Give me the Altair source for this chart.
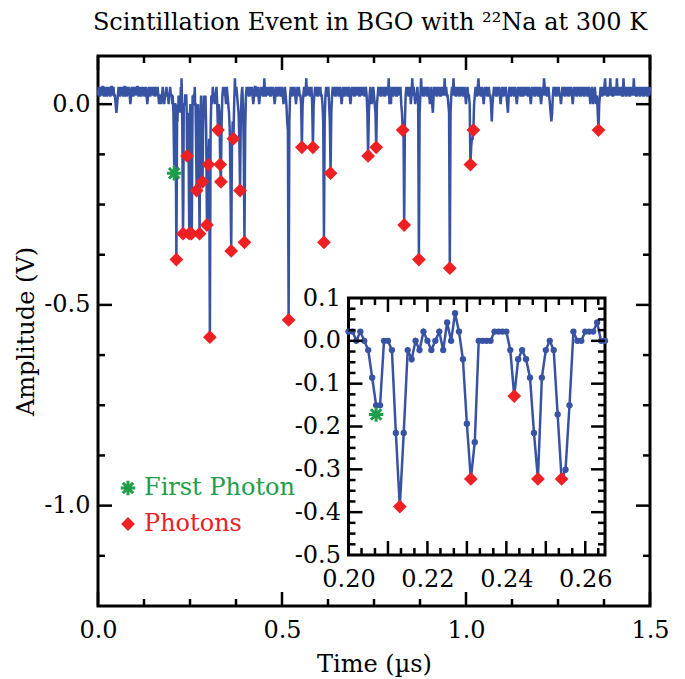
import altair as alt
import pandas as pd

# ---------------- data ----------------
# amplitudes are digitizer levels; one level = LSB volts
LSB = 0.0215
DT = 0.002        # µs per sample in the coarse record
DT_FINE = 0.001   # µs per sample in the zoomed record

# 0.000 .. 0.198 µs
early_levels = [
    1, 2, 1, 1, 2, 1, 2, 2, 1, 1, 2, 1, 1, 2, 1, 2, 1, 1, 2, 2, 1, 2, 1, 1, 0,
    -1, 0, 1, 2, 1, 1, 2, 1, 2, 1, 1, 2, 2, 1, 1, 2, 1, 2, 1, 0, 1, 2, 1, 1, 2,
    1, 2, 1, 2, 2, 1, 1, 2, 1, 1, 2, 1, 2, 1, 1, 2, 1, 0, 1, 2, 1, 1, 2, 1, 2,
    1, 2, 1, 1, 2, 1, 2, 1, 0, 1, 1, 0, 1, 2, 1, 0, 1, 1, 2, 1, 1, 0, 1, 2, 1,
]
# 0.200 .. 0.265 µs (1 ns samples, shown in the inset)
zoom_levels = [
    1, 1, 0, 1, 0, -1, -4, -7, -7, 0,
    0, -1, -10, -18, -10, -1, -2, 0, -1, 1,
    0, -1, 0, 1, -1, 2, 0, 3, 1, -2,
    -9, -15, -11, 0, 0, 0, 0, 1, 1, 1,
    1, -1, -6, -2, -1, -2, -4, -10, -15, -4,
    -1, 0, -1, -8, -15, -14, -7, 1, 0, 0,
    1, 1, 1, 2, 0, 0,
]
# 0.266 .. 1.500 µs
late_levels = [
    -3, -10, -2, 0, -6, -15, -3, 1, -4, -9, -2, 1, 0, 1, -3, -14, -5, -7, -4, -27, -3, 1, 0, 2, 1,
    1, 0, 1, 2, 0, -3, 0, -1, -7, -9, -2, 1, 2, 1, 2, 1, 0, 2, 1, 0, -1, -3, -9, -17, -5,
    -2, -4, 0, 3, 1, 2, 1, 0, -1, -4, -10, -2, 1, 2, 0, -5, -16, -3, 1, 2, 1, 2, 1, 1, 2,
    1, 2, 1, 0, 1, 2, 2, 1, 1, 2, 1, 0, 1, 2, 1, 2, 1, 1, 3, 1, 1, 2, 1, 2, 1,
    2, 1, 1, 2, 1, 2, 1, 0, 1, 2, 1, 1, 2, 1, 2, 1, 1, 2, 1, 0, 1, 2, 1, 0, -2,
    -3, -25, -2, 1, 2, 1, 1, 2, 1, 2, 1, 0, 1, 2, 1, 2, 1, 1, 0, -5, 0, 1, 2, 1, 1,
    3, 1, 2, 1, 2, 1, 1, 2, 0, -5, 0, 1, 2, 1, 2, 1, 1, 2, 1, 2, 1, 1, 0, -2, -16,
    -2, 1, 2, 1, 1, 2, 0, -2, -8, -1, 1, 2, 1, 2, 1, 1, 2, 1, 2, 1, 1, 2, 1, 0, 1,
    2, 1, 1, 2, 1, 2, 1, 1, 2, 1, 0, 1, 2, 1, 2, 1, 1, 2, 1, 2, 1, 2, 1, 1, 2,
    1, 2, 1, 2, 1, 1, 2, 1, -1, -6, -1, 1, 2, 1, 0, 1, 2, 1, 0, -1, -5, 0, 1, 2, 1,
    2, 1, 1, 2, 1, 2, 1, 1, 2, 1, 2, 1, 3, 0, 1, 0, 2, 1, 1, 2, 1, 2, 1, 1, 2,
    1, 2, 1, 2, 0, -1, -3, -2, -14, -2, 1, 2, 1, 2, 1, 1, 2, 0, 1, 3, 1, 2, 1, 0, 1,
    1, 2, 0, -18, -1, 1, 3, 1, 2, 1, 1, 2, 1, 2, 1, 1, 2, 1, 0, 1, 2, 0, -1, 1, 2,
    1, 2, 1, 1, 2, 1, 2, 1, 1, 2, 1, 2, 1, 3, 1, 2, 1, 1, 0, -1, -19, -1, 1, 2, 1,
    3, 1, 2, 1, 1, 2, 1, 2, 1, 1, 2, 1, 2, 1, 1, 2, 1, 0, 1, 2, 1, 1, 0, -7, -5,
    -4, -4, -3, 0, 1, 2, 1, 1, 2, 3, 1, 2, 1, 1, 2, 1, 0, 1, 2, 1, 2, 1, 1, 2, 1,
    1, 0, -2, 0, 1, 2, 1, 2, 1, 1, 2, 1, 2, 1, 0, 1, 2, 1, 1, 2, 1, 2, 1, 0, -1,
    1, 2, 1, 1, 2, 1, 2, 1, 1, 2, 1, 0, 1, 2, 1, 2, 1, 1, 2, 1, 1, 2, 1, 2, 1,
    2, 1, 1, 2, 1, 0, 1, 2, 1, 2, 1, 1, 2, 1, 2, 1, 1, 2, 1, 0, 1, 2, 1, 3, 2,
    1, 2, 1, 1, 2, 1, 0, -1, -2, -1, 1, 2, 1, 2, 1, 1, 2, 1, 2, 1, 1, 0, 1, 2, 1,
    2, 1, 1, 2, 1, 2, 1, 1, 2, 1, 2, 1, 0, 1, 2, 1, 2, 1, 1, 2, 1, 2, 1, 1, 2,
    1, 2, 1, 1, 2, 1, 2, 1, 1, 2, 1, 0, 1, 2, 1, 0, 1, 2, 1, 0, 1, -1, -3, 0, 1,
    2, 1, 1, 2, 1, 2, 3, 1, 2, 1, 1, 2, 1, 3, 1, 2, 1, 1, 2, 1, 2, 1, 3, 1, 2,
    1, 2, 1, 2, 1, 1, 3, 1, 2, 1, 1, 2, 1, 2, 1, 1, 2, 1, 2, 1, 3, 1, 2, 1, 1,
    2, 1, 2, 1, 1, 2, 1, 2, 1, 1, 2, 1, 2, 1, 1, 2, 1, 2,
]
EARLY_T0, ZOOM_T0, LATE_T0 = 0.0, 0.200, 0.266

photon_t = [0.213, 0.231, 0.242, 0.248, 0.254, 0.268, 0.276, 0.284, 0.296, 0.300,
            0.304, 0.326, 0.332, 0.334, 0.362, 0.368, 0.386, 0.398, 0.518, 0.554,
            0.584, 0.614, 0.632, 0.734, 0.756, 0.828, 0.832, 0.872, 0.956, 1.012,
            1.020, 1.360]
photon_v = [-0.387, -0.3225, -0.129, -0.3225, -0.3225, -0.215, -0.3225, -0.1935, -0.301, -0.1505,
            -0.5805, -0.0645, -0.1505, -0.1935, -0.3655, -0.086, -0.215, -0.344, -0.5375, -0.1075,
            -0.1075, -0.344, -0.172, -0.129, -0.1075, -0.0645, -0.301, -0.387, -0.4085, -0.1505,
            -0.0645, -0.0645]
first_t = [0.207]
first_v = [-0.172]

main_x_labels = [0.0, 0.5, 1.0, 1.5]
main_y_labels = [-1.0, -0.5, 0.0]
main_x_minor = [0.125, 0.25, 0.375, 0.625, 0.75, 0.875, 1.125, 1.25, 1.375]
main_y_minor = [-1.125, -0.875, -0.75, -0.625, -0.375, -0.25, -0.125]
inset_x_labels = [0.20, 0.22, 0.24, 0.26]
inset_x_major = [0.21, 0.22, 0.23, 0.24, 0.25, 0.26]
inset_x_minor = [0.2033, 0.2067, 0.2133, 0.2167, 0.2233, 0.2267, 0.2333, 0.2367,
                 0.2433, 0.2467, 0.2533, 0.2567, 0.2633]
inset_y_labels = [0.1, 0.0, -0.1, -0.2, -0.3, -0.4, -0.5]
inset_y_major = [0.0, -0.1, -0.2, -0.3, -0.4]
inset_y_minor = [0.075, 0.05, 0.025, -0.025, -0.05, -0.075, -0.125, -0.15, -0.175,
                 -0.225, -0.25, -0.275, -0.325, -0.35, -0.375, -0.425, -0.45, -0.475]

# ---------------- tables ----------------
def record(t0, dt, levels):
    return pd.DataFrame({"t": [round(t0 + i * dt, 4) for i in range(len(levels))],
                         "v": [lv * LSB for lv in levels]})

zoom_df = record(ZOOM_T0, DT_FINE, zoom_levels)
trace_df = pd.concat([record(EARLY_T0, DT, early_levels), zoom_df,
                      record(LATE_T0, DT, late_levels)], ignore_index=True)
photon_df = pd.DataFrame({"t": photon_t, "v": photon_v})
first_df = pd.DataFrame({"t": first_t, "v": first_v})

# ---------------- style / layout ----------------
W, H = 552, 550
BLUE, RED, GREEN = "#3953a4", "#ee2024", "#1e9e4a"
FONT = "DejaVu Serif"
FS = 24
STAR = "M0,-1L0,1M-1,0L1,0M-0.72,-0.72L0.72,0.72M-0.72,0.72L0.72,-0.72"
DSIZE, SSIZE = 190, 210
MAJ, MIN = 14, 7
IX0, IX1, IY1, IY0 = 250.5, 507, 242, 499   # inset frame in plot pixels

mx = alt.Scale(domain=[0, 1.5], nice=False, zero=False)
my = alt.Scale(domain=[-1.25, 0.12], nice=False, zero=False)
ix = alt.Scale(domain=[0.2, 0.265], range=[IX0, IX1], nice=False, zero=False)
iy = alt.Scale(domain=[-0.5, 0.1], range=[IY0, IY1], nice=False, zero=False)

HYPHEN = "datum.value < 0 ? '-' + format(-datum.value, '.1f') : format(datum.value, '.1f')"


def xticks(vals, scale, edge, length):
    return alt.Chart(pd.DataFrame({"p": vals})).mark_rule(color="black", strokeWidth=2.5).encode(
        x=alt.X("p:Q", scale=scale, axis=None), y=alt.value(edge), y2=alt.value(edge + length))


def yticks(vals, scale, edge, length):
    return alt.Chart(pd.DataFrame({"p": vals})).mark_rule(color="black", strokeWidth=2.5).encode(
        y=alt.Y("p:Q", scale=scale, axis=None), x=alt.value(edge), x2=alt.value(edge + length))


def pts(df, sx, sy, **mark):
    return alt.Chart(df).mark_point(opacity=1, **mark).encode(
        x=alt.X("t:Q", scale=sx, axis=None), y=alt.Y("v:Q", scale=sy, axis=None))


DIAMOND = dict(shape="diamond", filled=True, color=RED, size=DSIZE)
ASTER = dict(shape=STAR, filled=False, stroke=GREEN, strokeWidth=3, size=SSIZE)

# ---------------- main panel ----------------
main_line = alt.Chart(trace_df).mark_line(color=BLUE, strokeWidth=2.5).encode(
    x=alt.X("t:Q", scale=mx, axis=alt.Axis(
        orient="bottom", values=main_x_labels, format=".1f", labelPadding=12,
        labelFlush=False, title="Time (µs)", titlePadding=10)),
    y=alt.Y("v:Q", scale=my, axis=alt.Axis(
        orient="left", values=main_y_labels, labelExpr=HYPHEN,
        labelPadding=8, labelFlush=False, title="Amplitude (V)", titlePadding=5)),
)

one = pd.DataFrame({"k": [0]})
leg_star = alt.Chart(one).mark_point(opacity=1, **ASTER).encode(x=alt.value(30), y=alt.value(432))
leg_diam = alt.Chart(one).mark_point(opacity=1, **DIAMOND).encode(x=alt.value(30), y=alt.value(468))
leg_t1 = alt.Chart(one).mark_text(align="left", baseline="middle", fontSize=FS, font=FONT,
                                  color=GREEN).encode(x=alt.value(46), y=alt.value(432),
                                                      text=alt.value("First Photon"))
leg_t2 = alt.Chart(one).mark_text(align="left", baseline="middle", fontSize=FS, font=FONT,
                                  color=RED).encode(x=alt.value(46), y=alt.value(468),
                                                    text=alt.value("Photons"))

# ---------------- inset ----------------
inset_frame = alt.Chart(one).mark_rect(fill="white", stroke="black", strokeWidth=3).encode(
    x=alt.X(datum=0.2, type="quantitative", scale=ix, axis=None), x2=alt.X2(datum=0.265),
    y=alt.Y(datum=-0.5, type="quantitative", scale=iy, axis=None), y2=alt.Y2(datum=0.1))
inset_line = alt.Chart(zoom_df).mark_line(color=BLUE, strokeWidth=2.5).encode(
    x=alt.X("t:Q", scale=ix, axis=alt.Axis(
        orient="bottom", offset=-(H - IY0), values=inset_x_labels, format=".2f",
        labelPadding=12, labelFlush=False, title=None)),
    y=alt.Y("v:Q", scale=iy, axis=alt.Axis(
        orient="left", offset=-IX0, values=inset_y_labels, labelExpr=HYPHEN,
        labelPadding=8, labelFlush=False, title=None)),
)
inset_pts = alt.Chart(zoom_df).mark_circle(color=BLUE, size=40, opacity=1).encode(
    x=alt.X("t:Q", scale=ix, axis=None), y=alt.Y("v:Q", scale=iy, axis=None))
inset_photon_df = photon_df[(photon_df.t >= 0.2) & (photon_df.t <= 0.265)]

layers = [
    main_line,
    pts(photon_df, mx, my, **DIAMOND),
    pts(first_df, mx, my, **ASTER),
    xticks(main_x_labels, mx, H, -MAJ), xticks(main_x_labels, mx, 0, MAJ),
    xticks(main_x_minor, mx, H, -MIN), xticks(main_x_minor, mx, 0, MIN),
    yticks(main_y_labels, my, 0, MAJ), yticks(main_y_labels, my, W, -MAJ),
    yticks(main_y_minor, my, 0, MIN), yticks(main_y_minor, my, W, -MIN),
    leg_star, leg_diam, leg_t1, leg_t2,
    inset_frame, inset_line, inset_pts,
    pts(inset_photon_df, ix, iy, **DIAMOND),
    pts(first_df, ix, iy, **ASTER),
    xticks(inset_x_major, ix, IY0, -MAJ), xticks(inset_x_major, ix, IY1, MAJ),
    xticks(inset_x_minor, ix, IY0, -MIN), xticks(inset_x_minor, ix, IY1, MIN),
    yticks(inset_y_major, iy, IX0, MAJ), yticks(inset_y_major, iy, IX1, -MAJ),
    yticks(inset_y_minor, iy, IX0, MIN), yticks(inset_y_minor, iy, IX1, -MIN),
]

chart = alt.layer(*layers).resolve_scale(
    x="independent", y="independent").resolve_axis(
    x="independent", y="independent").properties(
    width=W, height=H,
    autosize=alt.AutoSizeParams(type="none"),
    padding={"left": 98, "top": 56, "right": 35, "bottom": 73},
    title=alt.Title("Scintillation Event in BGO with ²²Na at 300 K", fontSize=FS,
                    font=FONT, fontWeight="normal", color="black", anchor="middle",
                    frame="group", offset=20, dx=-4),
).configure(font=FONT).configure_axis(
    labelFont=FONT, titleFont=FONT, labelFontSize=FS, titleFontSize=FS,
    labelColor="black", titleColor="black", titleFontWeight="normal",
    grid=False, domain=False, ticks=False,
).configure_view(stroke="black", strokeWidth=3)

chart.save("out.html", embed_options={"renderer": "svg", "actions": False})
